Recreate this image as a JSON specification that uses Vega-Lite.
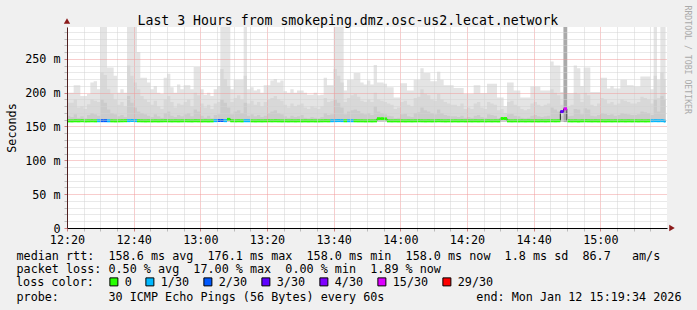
{
"$schema": "https://vega.github.io/schema/vega-lite/v6.json",
"width": 600, "height": 201,
"autosize": {"type": "none"},
"padding": {"left": 67, "top": 27, "right": 30, "bottom": 82},
"background": "#f0f0f0",
"config": {
 "view": {"stroke": null, "fill": "#ffffff"},
 "font": "DejaVu Sans Mono",
 "axis": {"labelFont": "DejaVu Sans Mono", "titleFont": "DejaVu Sans Mono", "labelFontSize": 11.75, "titleFontSize": 11.75, "titleFontWeight": "normal", "labelColor": "#000000", "titleColor": "#000000"}
},
"data": {"values": [
{"t":"2026-01-12T12:20:00Z","t2":"2026-01-12T12:21:00Z","med":158.3,"loss":"0","hi":200,"mid":185,"dk":166},
{"t":"2026-01-12T12:21:00Z","t2":"2026-01-12T12:22:00Z","med":158.2,"loss":"0","hi":200,"mid":185,"dk":164},
{"t":"2026-01-12T12:22:00Z","t2":"2026-01-12T12:23:00Z","med":158.4,"loss":"0","hi":211,"mid":190,"dk":168},
{"t":"2026-01-12T12:23:00Z","t2":"2026-01-12T12:24:00Z","med":158.3,"loss":"0","hi":211,"mid":178,"dk":163},
{"t":"2026-01-12T12:24:00Z","t2":"2026-01-12T12:25:00Z","med":158.5,"loss":"0","hi":195,"mid":180,"dk":165},
{"t":"2026-01-12T12:25:00Z","t2":"2026-01-12T12:26:00Z","med":158.2,"loss":"0","hi":195,"mid":176,"dk":162},
{"t":"2026-01-12T12:26:00Z","t2":"2026-01-12T12:27:00Z","med":158.3,"loss":"0","hi":198,"mid":183,"dk":167},
{"t":"2026-01-12T12:27:00Z","t2":"2026-01-12T12:28:00Z","med":158.4,"loss":"0","hi":215,"mid":190,"dk":170},
{"t":"2026-01-12T12:28:00Z","t2":"2026-01-12T12:29:00Z","med":158.3,"loss":"0","hi":217,"mid":188,"dk":168},
{"t":"2026-01-12T12:29:00Z","t2":"2026-01-12T12:30:00Z","med":158.5,"loss":"1/30","hi":205,"mid":186,"dk":166},
{"t":"2026-01-12T12:30:00Z","t2":"2026-01-12T12:31:00Z","med":158.6,"loss":"2/30","hi":297,"mid":230,"dk":190},
{"t":"2026-01-12T12:31:00Z","t2":"2026-01-12T12:32:00Z","med":158.6,"loss":"2/30","hi":297,"mid":226,"dk":185},
{"t":"2026-01-12T12:32:00Z","t2":"2026-01-12T12:33:00Z","med":158.4,"loss":"1/30","hi":237,"mid":205,"dk":175},
{"t":"2026-01-12T12:33:00Z","t2":"2026-01-12T12:34:00Z","med":158.3,"loss":"0","hi":237,"mid":198,"dk":170},
{"t":"2026-01-12T12:34:00Z","t2":"2026-01-12T12:35:00Z","med":158.2,"loss":"0","hi":225,"mid":190,"dk":168},
{"t":"2026-01-12T12:35:00Z","t2":"2026-01-12T12:36:00Z","med":158.3,"loss":"0","hi":200,"mid":182,"dk":165},
{"t":"2026-01-12T12:36:00Z","t2":"2026-01-12T12:37:00Z","med":158.4,"loss":"0","hi":205,"mid":186,"dk":167},
{"t":"2026-01-12T12:37:00Z","t2":"2026-01-12T12:38:00Z","med":158.5,"loss":"0","hi":200,"mid":180,"dk":164},
{"t":"2026-01-12T12:38:00Z","t2":"2026-01-12T12:39:00Z","med":158.6,"loss":"1/30","hi":297,"mid":240,"dk":195},
{"t":"2026-01-12T12:39:00Z","t2":"2026-01-12T12:40:00Z","med":158.8,"loss":"1/30","hi":297,"mid":225,"dk":185},
{"t":"2026-01-12T12:40:00Z","t2":"2026-01-12T12:41:00Z","med":158.6,"loss":"1/30","hi":297,"mid":215,"dk":178},
{"t":"2026-01-12T12:41:00Z","t2":"2026-01-12T12:42:00Z","med":158.4,"loss":"0","hi":260,"mid":205,"dk":172},
{"t":"2026-01-12T12:42:00Z","t2":"2026-01-12T12:43:00Z","med":158.3,"loss":"0","hi":222,"mid":195,"dk":170},
{"t":"2026-01-12T12:43:00Z","t2":"2026-01-12T12:44:00Z","med":158.2,"loss":"0","hi":222,"mid":190,"dk":168},
{"t":"2026-01-12T12:44:00Z","t2":"2026-01-12T12:45:00Z","med":158.3,"loss":"0","hi":215,"mid":186,"dk":166},
{"t":"2026-01-12T12:45:00Z","t2":"2026-01-12T12:46:00Z","med":158.2,"loss":"0","hi":205,"mid":182,"dk":164},
{"t":"2026-01-12T12:46:00Z","t2":"2026-01-12T12:47:00Z","med":158.3,"loss":"0","hi":210,"mid":188,"dk":168},
{"t":"2026-01-12T12:47:00Z","t2":"2026-01-12T12:48:00Z","med":158.2,"loss":"0","hi":200,"mid":180,"dk":165},
{"t":"2026-01-12T12:48:00Z","t2":"2026-01-12T12:49:00Z","med":158.3,"loss":"0","hi":198,"mid":176,"dk":163},
{"t":"2026-01-12T12:49:00Z","t2":"2026-01-12T12:50:00Z","med":158.4,"loss":"0","hi":222,"mid":190,"dk":170},
{"t":"2026-01-12T12:50:00Z","t2":"2026-01-12T12:51:00Z","med":158.3,"loss":"0","hi":228,"mid":195,"dk":172},
{"t":"2026-01-12T12:51:00Z","t2":"2026-01-12T12:52:00Z","med":158.2,"loss":"0","hi":208,"mid":186,"dk":166},
{"t":"2026-01-12T12:52:00Z","t2":"2026-01-12T12:53:00Z","med":158.3,"loss":"0","hi":200,"mid":178,"dk":164},
{"t":"2026-01-12T12:53:00Z","t2":"2026-01-12T12:54:00Z","med":158.2,"loss":"0","hi":212,"mid":184,"dk":167},
{"t":"2026-01-12T12:54:00Z","t2":"2026-01-12T12:55:00Z","med":158.3,"loss":"0","hi":205,"mid":182,"dk":165},
{"t":"2026-01-12T12:55:00Z","t2":"2026-01-12T12:56:00Z","med":158.4,"loss":"0","hi":211,"mid":186,"dk":168},
{"t":"2026-01-12T12:56:00Z","t2":"2026-01-12T12:57:00Z","med":158.3,"loss":"0","hi":211,"mid":190,"dk":170},
{"t":"2026-01-12T12:57:00Z","t2":"2026-01-12T12:58:00Z","med":158.2,"loss":"0","hi":205,"mid":180,"dk":165},
{"t":"2026-01-12T12:58:00Z","t2":"2026-01-12T12:59:00Z","med":158.4,"loss":"0","hi":238,"mid":200,"dk":175},
{"t":"2026-01-12T12:59:00Z","t2":"2026-01-12T13:00:00Z","med":158.3,"loss":"0","hi":238,"mid":196,"dk":172},
{"t":"2026-01-12T13:00:00Z","t2":"2026-01-12T13:01:00Z","med":158.2,"loss":"0","hi":205,"mid":184,"dk":166},
{"t":"2026-01-12T13:01:00Z","t2":"2026-01-12T13:02:00Z","med":158.3,"loss":"0","hi":197,"mid":178,"dk":163},
{"t":"2026-01-12T13:02:00Z","t2":"2026-01-12T13:03:00Z","med":158.2,"loss":"0","hi":200,"mid":182,"dk":166},
{"t":"2026-01-12T13:03:00Z","t2":"2026-01-12T13:04:00Z","med":158.3,"loss":"0","hi":195,"mid":176,"dk":162},
{"t":"2026-01-12T13:04:00Z","t2":"2026-01-12T13:05:00Z","med":158.6,"loss":"1/30","hi":205,"mid":184,"dk":167},
{"t":"2026-01-12T13:05:00Z","t2":"2026-01-12T13:06:00Z","med":158.8,"loss":"2/30","hi":210,"mid":186,"dk":168},
{"t":"2026-01-12T13:06:00Z","t2":"2026-01-12T13:07:00Z","med":158.8,"loss":"2/30","hi":297,"mid":235,"dk":190},
{"t":"2026-01-12T13:07:00Z","t2":"2026-01-12T13:08:00Z","med":158.6,"loss":"1/30","hi":297,"mid":220,"dk":185},
{"t":"2026-01-12T13:08:00Z","t2":"2026-01-12T13:09:00Z","med":160.5,"loss":"0","hi":297,"mid":210,"dk":178},
{"t":"2026-01-12T13:09:00Z","t2":"2026-01-12T13:10:00Z","med":158.4,"loss":"0","hi":205,"mid":186,"dk":168},
{"t":"2026-01-12T13:10:00Z","t2":"2026-01-12T13:11:00Z","med":158.3,"loss":"0","hi":219,"mid":192,"dk":172},
{"t":"2026-01-12T13:11:00Z","t2":"2026-01-12T13:12:00Z","med":158.4,"loss":"0","hi":219,"mid":196,"dk":174},
{"t":"2026-01-12T13:12:00Z","t2":"2026-01-12T13:13:00Z","med":158.3,"loss":"0","hi":219,"mid":190,"dk":170},
{"t":"2026-01-12T13:13:00Z","t2":"2026-01-12T13:14:00Z","med":158.5,"loss":"1/30","hi":297,"mid":225,"dk":185},
{"t":"2026-01-12T13:14:00Z","t2":"2026-01-12T13:15:00Z","med":158.5,"loss":"1/30","hi":205,"mid":184,"dk":166},
{"t":"2026-01-12T13:15:00Z","t2":"2026-01-12T13:16:00Z","med":158.3,"loss":"0","hi":208,"mid":188,"dk":168},
{"t":"2026-01-12T13:16:00Z","t2":"2026-01-12T13:17:00Z","med":158.2,"loss":"0","hi":203,"mid":182,"dk":165},
{"t":"2026-01-12T13:17:00Z","t2":"2026-01-12T13:18:00Z","med":158.3,"loss":"0","hi":205,"mid":186,"dk":167},
{"t":"2026-01-12T13:18:00Z","t2":"2026-01-12T13:19:00Z","med":158.2,"loss":"0","hi":200,"mid":180,"dk":164},
{"t":"2026-01-12T13:19:00Z","t2":"2026-01-12T13:20:00Z","med":158.3,"loss":"0","hi":211,"mid":186,"dk":166},
{"t":"2026-01-12T13:20:00Z","t2":"2026-01-12T13:21:00Z","med":158.4,"loss":"0","hi":211,"mid":190,"dk":170},
{"t":"2026-01-12T13:21:00Z","t2":"2026-01-12T13:22:00Z","med":158.3,"loss":"0","hi":218,"mid":192,"dk":172},
{"t":"2026-01-12T13:22:00Z","t2":"2026-01-12T13:23:00Z","med":158.4,"loss":"0","hi":220,"mid":195,"dk":174},
{"t":"2026-01-12T13:23:00Z","t2":"2026-01-12T13:24:00Z","med":158.3,"loss":"0","hi":215,"mid":190,"dk":170},
{"t":"2026-01-12T13:24:00Z","t2":"2026-01-12T13:25:00Z","med":158.2,"loss":"0","hi":218,"mid":188,"dk":168},
{"t":"2026-01-12T13:25:00Z","t2":"2026-01-12T13:26:00Z","med":158.3,"loss":"0","hi":202,"mid":182,"dk":165},
{"t":"2026-01-12T13:26:00Z","t2":"2026-01-12T13:27:00Z","med":158.2,"loss":"0","hi":200,"mid":178,"dk":163},
{"t":"2026-01-12T13:27:00Z","t2":"2026-01-12T13:28:00Z","med":158.3,"loss":"0","hi":205,"mid":184,"dk":166},
{"t":"2026-01-12T13:28:00Z","t2":"2026-01-12T13:29:00Z","med":158.2,"loss":"0","hi":200,"mid":180,"dk":164},
{"t":"2026-01-12T13:29:00Z","t2":"2026-01-12T13:30:00Z","med":158.3,"loss":"0","hi":203,"mid":182,"dk":165},
{"t":"2026-01-12T13:30:00Z","t2":"2026-01-12T13:31:00Z","med":158.2,"loss":"0","hi":203,"mid":184,"dk":167},
{"t":"2026-01-12T13:31:00Z","t2":"2026-01-12T13:32:00Z","med":158.3,"loss":"0","hi":200,"mid":178,"dk":163},
{"t":"2026-01-12T13:32:00Z","t2":"2026-01-12T13:33:00Z","med":158.2,"loss":"0","hi":197,"mid":176,"dk":162},
{"t":"2026-01-12T13:33:00Z","t2":"2026-01-12T13:34:00Z","med":158.3,"loss":"0","hi":197,"mid":180,"dk":164},
{"t":"2026-01-12T13:34:00Z","t2":"2026-01-12T13:35:00Z","med":158.2,"loss":"0","hi":200,"mid":178,"dk":163},
{"t":"2026-01-12T13:35:00Z","t2":"2026-01-12T13:36:00Z","med":158.2,"loss":"0","hi":196,"mid":176,"dk":162},
{"t":"2026-01-12T13:36:00Z","t2":"2026-01-12T13:37:00Z","med":158.3,"loss":"0","hi":197,"mid":180,"dk":164},
{"t":"2026-01-12T13:37:00Z","t2":"2026-01-12T13:38:00Z","med":158.4,"loss":"0","hi":222,"mid":192,"dk":170},
{"t":"2026-01-12T13:38:00Z","t2":"2026-01-12T13:39:00Z","med":158.3,"loss":"0","hi":211,"mid":186,"dk":167},
{"t":"2026-01-12T13:39:00Z","t2":"2026-01-12T13:40:00Z","med":158.5,"loss":"1/30","hi":211,"mid":188,"dk":168},
{"t":"2026-01-12T13:40:00Z","t2":"2026-01-12T13:41:00Z","med":158.6,"loss":"1/30","hi":297,"mid":235,"dk":190},
{"t":"2026-01-12T13:41:00Z","t2":"2026-01-12T13:42:00Z","med":158.7,"loss":"1/30","hi":297,"mid":225,"dk":185},
{"t":"2026-01-12T13:42:00Z","t2":"2026-01-12T13:43:00Z","med":158.6,"loss":"1/30","hi":297,"mid":215,"dk":178},
{"t":"2026-01-12T13:43:00Z","t2":"2026-01-12T13:44:00Z","med":158.4,"loss":"0","hi":203,"mid":186,"dk":168},
{"t":"2026-01-12T13:44:00Z","t2":"2026-01-12T13:45:00Z","med":158.5,"loss":"1/30","hi":219,"mid":192,"dk":172},
{"t":"2026-01-12T13:45:00Z","t2":"2026-01-12T13:46:00Z","med":158.5,"loss":"1/30","hi":219,"mid":196,"dk":174},
{"t":"2026-01-12T13:46:00Z","t2":"2026-01-12T13:47:00Z","med":158.4,"loss":"0","hi":229,"mid":198,"dk":175},
{"t":"2026-01-12T13:47:00Z","t2":"2026-01-12T13:48:00Z","med":158.3,"loss":"0","hi":229,"mid":194,"dk":173},
{"t":"2026-01-12T13:48:00Z","t2":"2026-01-12T13:49:00Z","med":158.3,"loss":"0","hi":215,"mid":188,"dk":170},
{"t":"2026-01-12T13:49:00Z","t2":"2026-01-12T13:50:00Z","med":158.2,"loss":"0","hi":212,"mid":186,"dk":168},
{"t":"2026-01-12T13:50:00Z","t2":"2026-01-12T13:51:00Z","med":158.3,"loss":"0","hi":218,"mid":190,"dk":170},
{"t":"2026-01-12T13:51:00Z","t2":"2026-01-12T13:52:00Z","med":158.2,"loss":"0","hi":212,"mid":186,"dk":167},
{"t":"2026-01-12T13:52:00Z","t2":"2026-01-12T13:53:00Z","med":158.3,"loss":"0","hi":241,"mid":200,"dk":180},
{"t":"2026-01-12T13:53:00Z","t2":"2026-01-12T13:54:00Z","med":161.5,"loss":"0","hi":215,"mid":190,"dk":172},
{"t":"2026-01-12T13:54:00Z","t2":"2026-01-12T13:55:00Z","med":161.5,"loss":"0","hi":215,"mid":188,"dk":170},
{"t":"2026-01-12T13:55:00Z","t2":"2026-01-12T13:56:00Z","med":161.2,"loss":"0","hi":213,"mid":186,"dk":168},
{"t":"2026-01-12T13:56:00Z","t2":"2026-01-12T13:57:00Z","med":158.3,"loss":"0","hi":208,"mid":184,"dk":166},
{"t":"2026-01-12T13:57:00Z","t2":"2026-01-12T13:58:00Z","med":158.2,"loss":"0","hi":208,"mid":182,"dk":165},
{"t":"2026-01-12T13:58:00Z","t2":"2026-01-12T13:59:00Z","med":158.3,"loss":"0","hi":193,"mid":176,"dk":162},
{"t":"2026-01-12T13:59:00Z","t2":"2026-01-12T14:00:00Z","med":158.2,"loss":"0","hi":193,"mid":178,"dk":163},
{"t":"2026-01-12T14:00:00Z","t2":"2026-01-12T14:01:00Z","med":158.3,"loss":"0","hi":214,"mid":186,"dk":168},
{"t":"2026-01-12T14:01:00Z","t2":"2026-01-12T14:02:00Z","med":158.2,"loss":"0","hi":214,"mid":188,"dk":169},
{"t":"2026-01-12T14:02:00Z","t2":"2026-01-12T14:03:00Z","med":158.3,"loss":"0","hi":203,"mid":182,"dk":165},
{"t":"2026-01-12T14:03:00Z","t2":"2026-01-12T14:04:00Z","med":158.2,"loss":"0","hi":203,"mid":180,"dk":164},
{"t":"2026-01-12T14:04:00Z","t2":"2026-01-12T14:05:00Z","med":158.3,"loss":"0","hi":219,"mid":192,"dk":170},
{"t":"2026-01-12T14:05:00Z","t2":"2026-01-12T14:06:00Z","med":158.4,"loss":"0","hi":219,"mid":194,"dk":171},
{"t":"2026-01-12T14:06:00Z","t2":"2026-01-12T14:07:00Z","med":158.3,"loss":"0","hi":236,"mid":205,"dk":178},
{"t":"2026-01-12T14:07:00Z","t2":"2026-01-12T14:08:00Z","med":158.2,"loss":"0","hi":229,"mid":198,"dk":174},
{"t":"2026-01-12T14:08:00Z","t2":"2026-01-12T14:09:00Z","med":158.3,"loss":"0","hi":229,"mid":196,"dk":172},
{"t":"2026-01-12T14:09:00Z","t2":"2026-01-12T14:10:00Z","med":158.2,"loss":"0","hi":217,"mid":190,"dk":170},
{"t":"2026-01-12T14:10:00Z","t2":"2026-01-12T14:11:00Z","med":158.3,"loss":"0","hi":217,"mid":188,"dk":168},
{"t":"2026-01-12T14:11:00Z","t2":"2026-01-12T14:12:00Z","med":158.4,"loss":"0","hi":231,"mid":198,"dk":175},
{"t":"2026-01-12T14:12:00Z","t2":"2026-01-12T14:13:00Z","med":158.3,"loss":"0","hi":219,"mid":190,"dk":170},
{"t":"2026-01-12T14:13:00Z","t2":"2026-01-12T14:14:00Z","med":158.2,"loss":"0","hi":211,"mid":186,"dk":167},
{"t":"2026-01-12T14:14:00Z","t2":"2026-01-12T14:15:00Z","med":158.3,"loss":"0","hi":211,"mid":184,"dk":166},
{"t":"2026-01-12T14:15:00Z","t2":"2026-01-12T14:16:00Z","med":158.2,"loss":"0","hi":211,"mid":182,"dk":165},
{"t":"2026-01-12T14:16:00Z","t2":"2026-01-12T14:17:00Z","med":158.3,"loss":"0","hi":207,"mid":182,"dk":165},
{"t":"2026-01-12T14:17:00Z","t2":"2026-01-12T14:18:00Z","med":158.2,"loss":"0","hi":207,"mid":180,"dk":164},
{"t":"2026-01-12T14:18:00Z","t2":"2026-01-12T14:19:00Z","med":158.3,"loss":"0","hi":207,"mid":184,"dk":166},
{"t":"2026-01-12T14:19:00Z","t2":"2026-01-12T14:20:00Z","med":158.2,"loss":"0","hi":198,"mid":176,"dk":163},
{"t":"2026-01-12T14:20:00Z","t2":"2026-01-12T14:21:00Z","med":158.3,"loss":"0","hi":198,"mid":178,"dk":164},
{"t":"2026-01-12T14:21:00Z","t2":"2026-01-12T14:22:00Z","med":158.2,"loss":"0","hi":198,"mid":176,"dk":163},
{"t":"2026-01-12T14:22:00Z","t2":"2026-01-12T14:23:00Z","med":158.3,"loss":"0","hi":211,"mid":184,"dk":166},
{"t":"2026-01-12T14:23:00Z","t2":"2026-01-12T14:24:00Z","med":158.2,"loss":"0","hi":211,"mid":186,"dk":167},
{"t":"2026-01-12T14:24:00Z","t2":"2026-01-12T14:25:00Z","med":158.3,"loss":"0","hi":199,"mid":178,"dk":164},
{"t":"2026-01-12T14:25:00Z","t2":"2026-01-12T14:26:00Z","med":158.2,"loss":"0","hi":199,"mid":176,"dk":163},
{"t":"2026-01-12T14:26:00Z","t2":"2026-01-12T14:27:00Z","med":158.3,"loss":"0","hi":213,"mid":186,"dk":168},
{"t":"2026-01-12T14:27:00Z","t2":"2026-01-12T14:28:00Z","med":158.2,"loss":"0","hi":213,"mid":184,"dk":167},
{"t":"2026-01-12T14:28:00Z","t2":"2026-01-12T14:29:00Z","med":158.3,"loss":"0","hi":213,"mid":182,"dk":166},
{"t":"2026-01-12T14:29:00Z","t2":"2026-01-12T14:30:00Z","med":158.2,"loss":"0","hi":193,"mid":174,"dk":162},
{"t":"2026-01-12T14:30:00Z","t2":"2026-01-12T14:31:00Z","med":161.8,"loss":"0","hi":193,"mid":176,"dk":163},
{"t":"2026-01-12T14:31:00Z","t2":"2026-01-12T14:32:00Z","med":161.8,"loss":"0","hi":180,"mid":170,"dk":162},
{"t":"2026-01-12T14:32:00Z","t2":"2026-01-12T14:33:00Z","med":158.3,"loss":"0","hi":215,"mid":186,"dk":168},
{"t":"2026-01-12T14:33:00Z","t2":"2026-01-12T14:34:00Z","med":158.2,"loss":"0","hi":215,"mid":188,"dk":169},
{"t":"2026-01-12T14:34:00Z","t2":"2026-01-12T14:35:00Z","med":158.3,"loss":"0","hi":203,"mid":182,"dk":166},
{"t":"2026-01-12T14:35:00Z","t2":"2026-01-12T14:36:00Z","med":158.2,"loss":"0","hi":203,"mid":180,"dk":165},
{"t":"2026-01-12T14:36:00Z","t2":"2026-01-12T14:37:00Z","med":158.3,"loss":"0","hi":193,"mid":176,"dk":163},
{"t":"2026-01-12T14:37:00Z","t2":"2026-01-12T14:38:00Z","med":158.2,"loss":"0","hi":193,"mid":174,"dk":162},
{"t":"2026-01-12T14:38:00Z","t2":"2026-01-12T14:39:00Z","med":158.3,"loss":"0","hi":193,"mid":176,"dk":163},
{"t":"2026-01-12T14:39:00Z","t2":"2026-01-12T14:40:00Z","med":158.2,"loss":"0","hi":209,"mid":184,"dk":166},
{"t":"2026-01-12T14:40:00Z","t2":"2026-01-12T14:41:00Z","med":158.3,"loss":"0","hi":209,"mid":186,"dk":167},
{"t":"2026-01-12T14:41:00Z","t2":"2026-01-12T14:42:00Z","med":158.2,"loss":"0","hi":209,"mid":182,"dk":165},
{"t":"2026-01-12T14:42:00Z","t2":"2026-01-12T14:43:00Z","med":158.3,"loss":"0","hi":203,"mid":180,"dk":164},
{"t":"2026-01-12T14:43:00Z","t2":"2026-01-12T14:44:00Z","med":158.2,"loss":"0","hi":203,"mid":182,"dk":165},
{"t":"2026-01-12T14:44:00Z","t2":"2026-01-12T14:45:00Z","med":158.3,"loss":"0","hi":203,"mid":184,"dk":166},
{"t":"2026-01-12T14:45:00Z","t2":"2026-01-12T14:46:00Z","med":158.4,"loss":"0","hi":246,"mid":205,"dk":178},
{"t":"2026-01-12T14:46:00Z","t2":"2026-01-12T14:47:00Z","med":158.3,"loss":"0","hi":240,"mid":200,"dk":175},
{"t":"2026-01-12T14:47:00Z","t2":"2026-01-12T14:48:00Z","med":158.4,"loss":"0","hi":240,"mid":196,"dk":172},
{"t":"2026-01-12T14:48:00Z","t2":"2026-01-12T14:49:00Z","med":172.0,"loss":"3/30","hi":201,"mid":182,"dk":166},
{"t":"2026-01-12T14:49:00Z","t2":"2026-01-12T14:50:00Z","med":176.1,"loss":"15/30","hi":297,"mid":297,"dk":297,"core":297},
{"t":"2026-01-12T14:50:00Z","t2":"2026-01-12T14:51:00Z","med":158.3,"loss":"0","hi":199,"mid":180,"dk":165},
{"t":"2026-01-12T14:51:00Z","t2":"2026-01-12T14:52:00Z","med":158.2,"loss":"0","hi":199,"mid":182,"dk":166},
{"t":"2026-01-12T14:52:00Z","t2":"2026-01-12T14:53:00Z","med":158.3,"loss":"0","hi":240,"mid":200,"dk":176},
{"t":"2026-01-12T14:53:00Z","t2":"2026-01-12T14:54:00Z","med":158.2,"loss":"0","hi":236,"mid":198,"dk":175},
{"t":"2026-01-12T14:54:00Z","t2":"2026-01-12T14:55:00Z","med":158.3,"loss":"0","hi":210,"mid":186,"dk":168},
{"t":"2026-01-12T14:55:00Z","t2":"2026-01-12T14:56:00Z","med":158.4,"loss":"0","hi":237,"mid":200,"dk":177},
{"t":"2026-01-12T14:56:00Z","t2":"2026-01-12T14:57:00Z","med":158.3,"loss":"0","hi":237,"mid":196,"dk":175},
{"t":"2026-01-12T14:57:00Z","t2":"2026-01-12T14:58:00Z","med":158.2,"loss":"0","hi":201,"mid":182,"dk":166},
{"t":"2026-01-12T14:58:00Z","t2":"2026-01-12T14:59:00Z","med":158.3,"loss":"0","hi":201,"mid":180,"dk":165},
{"t":"2026-01-12T14:59:00Z","t2":"2026-01-12T15:00:00Z","med":158.2,"loss":"0","hi":201,"mid":184,"dk":167},
{"t":"2026-01-12T15:00:00Z","t2":"2026-01-12T15:01:00Z","med":158.3,"loss":"0","hi":222,"mid":192,"dk":170},
{"t":"2026-01-12T15:01:00Z","t2":"2026-01-12T15:02:00Z","med":158.2,"loss":"0","hi":222,"mid":190,"dk":169},
{"t":"2026-01-12T15:02:00Z","t2":"2026-01-12T15:03:00Z","med":158.3,"loss":"0","hi":206,"mid":184,"dk":167},
{"t":"2026-01-12T15:03:00Z","t2":"2026-01-12T15:04:00Z","med":158.2,"loss":"0","hi":210,"mid":186,"dk":168},
{"t":"2026-01-12T15:04:00Z","t2":"2026-01-12T15:05:00Z","med":158.3,"loss":"0","hi":206,"mid":182,"dk":166},
{"t":"2026-01-12T15:05:00Z","t2":"2026-01-12T15:06:00Z","med":158.2,"loss":"0","hi":206,"mid":184,"dk":167},
{"t":"2026-01-12T15:06:00Z","t2":"2026-01-12T15:07:00Z","med":158.3,"loss":"0","hi":219,"mid":190,"dk":170},
{"t":"2026-01-12T15:07:00Z","t2":"2026-01-12T15:08:00Z","med":158.2,"loss":"0","hi":219,"mid":188,"dk":169},
{"t":"2026-01-12T15:08:00Z","t2":"2026-01-12T15:09:00Z","med":158.3,"loss":"0","hi":211,"mid":186,"dk":168},
{"t":"2026-01-12T15:09:00Z","t2":"2026-01-12T15:10:00Z","med":158.2,"loss":"0","hi":211,"mid":184,"dk":167},
{"t":"2026-01-12T15:10:00Z","t2":"2026-01-12T15:11:00Z","med":158.3,"loss":"0","hi":209,"mid":184,"dk":167},
{"t":"2026-01-12T15:11:00Z","t2":"2026-01-12T15:12:00Z","med":158.2,"loss":"0","hi":209,"mid":186,"dk":168},
{"t":"2026-01-12T15:12:00Z","t2":"2026-01-12T15:13:00Z","med":158.3,"loss":"0","hi":224,"mid":194,"dk":172},
{"t":"2026-01-12T15:13:00Z","t2":"2026-01-12T15:14:00Z","med":158.2,"loss":"0","hi":224,"mid":192,"dk":171},
{"t":"2026-01-12T15:14:00Z","t2":"2026-01-12T15:15:00Z","med":158.3,"loss":"0","hi":224,"mid":190,"dk":170},
{"t":"2026-01-12T15:15:00Z","t2":"2026-01-12T15:16:00Z","med":158.5,"loss":"1/30","hi":205,"mid":184,"dk":167},
{"t":"2026-01-12T15:16:00Z","t2":"2026-01-12T15:17:00Z","med":158.6,"loss":"1/30","hi":297,"mid":225,"dk":190},
{"t":"2026-01-12T15:17:00Z","t2":"2026-01-12T15:18:00Z","med":158.5,"loss":"1/30","hi":219,"mid":192,"dk":172},
{"t":"2026-01-12T15:18:00Z","t2":"2026-01-12T15:19:00Z","med":158.6,"loss":"1/30","hi":297,"mid":230,"dk":195},
{"t":"2026-01-12T15:19:00Z","t2":"2026-01-12T15:19:34Z","med":158.0,"loss":"1/30","hi":297,"mid":220,"dk":190},
{"t":"2026-01-12T15:19:34Z","t2":"2026-01-12T15:19:34Z","med":158.0,"loss":"1/30","hi":297,"mid":220,"dk":190}
]},
"resolve": {"axis": {"x": "independent", "y": "independent"}},
"layer": [
 {
  "mark": {"type": "area", "interpolate": "step-after", "color": "#e4e4e4"},
  "encoding": {
   "x": {"field": "t", "type": "temporal",
    "scale": {"type": "utc", "domain": [1768220400000, 1768231200000]},
    "axis": {"orient": "bottom",
     "values": [1768220400000,1768220700000,1768221000000,1768221300000,1768221600000,1768221900000,1768222200000,1768222500000,1768222800000,1768223100000,1768223400000,1768223700000,1768224000000,1768224300000,1768224600000,1768224900000,1768225200000,1768225500000,1768225800000,1768226100000,1768226400000,1768226700000,1768227000000,1768227300000,1768227600000,1768227900000,1768228200000,1768228500000,1768228800000,1768229100000,1768229400000,1768229700000,1768230000000,1768230300000,1768230600000,1768230900000],
     "labelExpr": "utcminutes(datum.value) % 20 === 0 ? utcFormat(datum.value, '%H:%M') : ''",
     "labelFlush": false, "labelOverlap": false, "labelPadding": 3,
     "grid": true,
     "gridColor": {"condition": {"test": "utcminutes(datum.value) % 20 === 0", "value": "#f09a9a"}, "value": "#d2d2d2"},
     "gridDash": [1, 1],
     "tickSize": 3,
     "tickColor": {"condition": {"test": "utcminutes(datum.value) % 20 === 0", "value": "#d08080"}, "value": "#bbbbbb"},
     "domainColor": "#000000",
     "title": ["median\u00a0rtt:\u00a0\u00a0158.6\u00a0ms\u00a0avg\u00a0\u00a0176.1\u00a0ms\u00a0max\u00a0\u00a0158.0\u00a0ms\u00a0min\u00a0\u00a0158.0\u00a0ms\u00a0now\u00a0\u00a01.8\u00a0ms\u00a0sd\u00a0\u00a086.7\u00a0\u00a0\u00a0am/s",
               "packet\u00a0loss:\u00a00.50\u00a0%\u00a0avg\u00a0\u00a017.00\u00a0%\u00a0max\u00a0\u00a00.00\u00a0%\u00a0min\u00a0\u00a01.89\u00a0%\u00a0now"],
     "titleX": -51, "titleY": 31, "titleAlign": "left", "titleAnchor": "start", "titleBaseline": "alphabetic", "titleLineHeight": 13.9,
     "zindex": 1}},
   "y": {"field": "hi", "type": "quantitative",
    "scale": {"domain": [0, 297], "nice": false, "zero": true},
    "axis": {"orient": "left",
     "values": [0,10,20,30,40,50,60,70,80,90,100,110,120,130,140,150,160,170,180,190,200,210,220,230,240,250,260,270,280,290],
     "labelExpr": "datum.value % 50 === 0 ? (datum.value === 0 ? '0' : datum.value + ' m') : ''",
     "labelOverlap": false, "labelPadding": 4,
     "grid": true,
     "gridColor": {"condition": {"test": "datum.value % 50 === 0", "value": "#f09a9a"}, "value": "#d2d2d2"},
     "gridDash": [1, 1],
     "tickSize": 3,
     "tickColor": {"condition": {"test": "datum.value % 50 === 0", "value": "#d08080"}, "value": "#bbbbbb"},
     "domainColor": "#502020",
     "title": "Seconds", "titleX": -56, "titleY": 100.5, "titleAngle": 270, "titleAlign": "center", "titleBaseline": "middle",
     "zindex": 1}},
   "y2": {"datum": 156.5}
  }
 },
 {
  "mark": {"type": "area", "interpolate": "step-after", "color": "#d8d8d8"},
  "encoding": {
   "x": {"field": "t", "type": "temporal", "axis": null},
   "y": {"field": "mid", "type": "quantitative", "axis": null},
   "y2": {"datum": 156.5}
  }
 },
 {
  "mark": {"type": "area", "interpolate": "step-after", "color": "#cbcbcb"},
  "encoding": {
   "x": {"field": "t", "type": "temporal", "axis": null},
   "y": {"field": "dk", "type": "quantitative", "axis": null},
   "y2": {"datum": 156.5}
  }
 },
 {
  "mark": {"type": "rect", "color": "#aaaaaa"},
  "encoding": {
   "x": {"field": "t", "type": "temporal", "axis": null},
   "x2": {"field": "t2"},
   "y": {"field": "core", "type": "quantitative", "axis": null},
   "y2": {"datum": 156.5}
  }
 },
 {
  "mark": {"type": "line", "interpolate": "step-after", "color": "#202020", "strokeWidth": 1},
  "encoding": {
   "x": {"field": "t", "type": "temporal", "axis": null},
   "y": {"field": "med", "type": "quantitative", "axis": null}
  }
 },
 {
  "mark": {"type": "rect", "yOffset": -1.5, "y2Offset": 1.5},
  "encoding": {
   "x": {"field": "t", "type": "temporal", "axis": null},
   "x2": {"field": "t2"},
   "y": {"field": "med", "type": "quantitative", "axis": null},
   "y2": {"field": "med"},
   "color": {"field": "loss", "type": "nominal",
    "scale": {"domain": ["0", "1/30", "2/30", "3/30", "4/30", "15/30", "29/30"], "range": ["#26ff00", "#00b8ff", "#0059ff", "#5e00ff", "#7e00ff", "#dd00ff", "#ff0000"]},
    "legend": {"orient": "none", "legendX": -51, "legendY": 249, "direction": "horizontal", "gridAlign": "none",
     "title": "loss color:", "titleOrient": "left", "titleFont": "DejaVu Sans Mono", "titleFontSize": 11.75, "titleFontWeight": "normal", "titleColor": "#000000", "titlePadding": 14,
     "labelFont": "DejaVu Sans Mono", "labelFontSize": 11.75, "labelColor": "#000000", "labelOffset": 5, "columnPadding": 11,
     "symbolType": "square", "symbolSize": 64, "symbolStrokeWidth": 1, "symbolStrokeColor": "#000000", "symbolOpacity": 1}}
  }
 },
 {
  "data": {"values": [{}]},
  "mark": {"type": "point", "shape": "triangle-up", "filled": true, "color": "#8b1a1a", "size": 40, "opacity": 1},
  "encoding": {
   "x": {"datum": 1768220400000, "type": "temporal",
    "axis": {"orient": "top", "title": "Last 3 Hours from smokeping.dmz.osc-us2.lecat.network", "labels": false, "ticks": false, "domain": false, "grid": false,
     "titleX": 70, "titleY": -3, "titleAlign": "left", "titleAnchor": "start", "titleBaseline": "alphabetic", "titleFontSize": 13.2}},
   "y": {"datum": 306, "type": "quantitative",
    "axis": {"orient": "right", "title": "RRDTOOL / TOBI OETIKER", "labels": false, "ticks": false, "domain": false, "grid": false,
     "titleX": 19, "titleY": -22, "titleAngle": 90, "titleAlign": "left", "titleBaseline": "middle", "titleFontSize": 8.2, "titleColor": "#aaaaaa"}}
  }
 },
 {
  "data": {"values": [{}]},
  "mark": {"type": "point", "shape": "triangle-right", "filled": true, "color": "#8b1a1a", "size": 40, "opacity": 1},
  "encoding": {
   "x": {"datum": 1768231290000, "type": "temporal",
    "axis": {"orient": "bottom", "title": "probe:\u00a0\u00a0\u00a0\u00a0\u00a0\u00a0\u00a030\u00a0ICMP\u00a0Echo\u00a0Pings\u00a0(56\u00a0Bytes)\u00a0every\u00a060s\u00a0\u00a0\u00a0\u00a0\u00a0\u00a0\u00a0\u00a0\u00a0\u00a0\u00a0\u00a0\u00a0end:\u00a0Mon\u00a0Jan\u00a012\u00a015:19:34\u00a02026",
     "labels": false, "ticks": false, "domain": false, "grid": false,
     "titleX": -51, "titleY": 72.7, "titleAlign": "left", "titleAnchor": "start", "titleBaseline": "alphabetic"}},
   "y": {"datum": 0, "type": "quantitative", "axis": null}
  }
 }
]
}
